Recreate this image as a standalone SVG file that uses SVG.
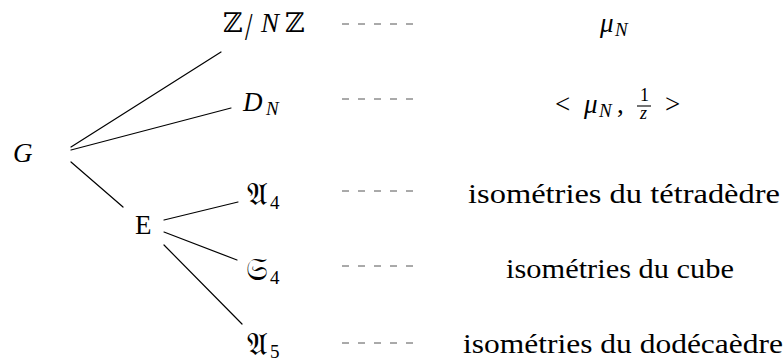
<svg xmlns="http://www.w3.org/2000/svg" width="784" height="361" viewBox="0 0 784 361">
<style>
text{font-family:'Liberation Serif','Times New Roman','DejaVu Serif',serif;font-size:27px;fill:#000}
.i{font-style:italic}
.s{font-size:19px}
.q{font-size:18px}
.f{font-family:'DejaVu Serif','DejaVu Sans','Noto Sans',serif;font-size:31px}
.z{font-family:'DejaVu Serif','DejaVu Sans',serif}
.e{stroke:#000;stroke-width:1.2;fill:none;stroke-linecap:round}
.d{stroke:#555;stroke-width:1;stroke-dasharray:7 9;fill:none}
</style>
<rect width="784" height="361" fill="#fff"/>
<g id="connectors">
<line class="e" x1="71" y1="147" x2="221" y2="52"/>
<line class="e" x1="71" y1="150" x2="231" y2="108"/>
<line class="e" x1="71" y1="162" x2="123" y2="207"/>
<line class="e" x1="164" y1="220" x2="238" y2="202"/>
<line class="e" x1="164" y1="232" x2="237" y2="260"/>
<line class="e" x1="164" y1="245" x2="242" y2="324"/>
<line class="d" x1="342" y1="24" x2="416" y2="24"/>
<line class="d" x1="342" y1="99" x2="416" y2="99"/>
<line class="d" x1="342" y1="191" x2="416" y2="191"/>
<line class="d" x1="342" y1="266" x2="416" y2="266"/>
<line class="d" x1="342" y1="343" x2="416" y2="343"/>
</g>
<g id="node-G"><text class="i" x="13" y="162">G</text></g>
<g id="node-ZNZ">
<text y="32"><tspan class="z" x="223">ℤ</tspan><tspan class="i" x="261">N</tspan><tspan class="z" x="285">ℤ</tspan></text>
<text transform="translate(245,40) scale(1,1.45)" x="0" y="0">/</text>
</g>
<g id="node-DN"><text class="i" x="243" y="111">D<tspan class="s" x="266" dy="4">N</tspan></text></g>
<g id="node-E"><text x="135" y="234">E</text></g>
<g id="node-A4"><text x="247" y="205"><tspan class="f">𝔄</tspan><tspan class="s" x="270" dy="4">4</tspan></text></g>
<g id="node-S4"><text x="246" y="280"><tspan class="f">𝔖</tspan><tspan class="s" x="270" dy="4">4</tspan></text></g>
<g id="node-A5"><text x="247" y="355"><tspan class="f">𝔄</tspan><tspan class="s" x="270" dy="3">5</tspan></text></g>
<g id="node-muN"><text class="i" x="600" y="32">μ<tspan class="s" x="615" dy="4">N</tspan></text></g>
<g id="node-muN-inv">
<text x="555" y="113">&lt;</text>
<text class="i" x="584" y="113">μ<tspan class="s" x="599" dy="4">N</tspan></text>
<text x="617" y="113">,</text>
<text class="q" x="640" y="101">1</text>
<line x1="637" y1="106" x2="651" y2="106" stroke="#000" stroke-width="1.1"/>
<text class="q i" x="640" y="119">z</text>
<text x="665" y="113">&gt;</text>
</g>
<g id="node-tetra"><text x="624" y="203" text-anchor="middle" textLength="312" lengthAdjust="spacingAndGlyphs">isométries du tétradèdre</text></g>
<g id="node-cube"><text x="620" y="278" text-anchor="middle" textLength="228" lengthAdjust="spacingAndGlyphs">isométries du cube</text></g>
<g id="node-dodeca"><text x="623" y="353" text-anchor="middle" textLength="320" lengthAdjust="spacingAndGlyphs">isométries du dodécaèdre</text></g>
</svg>
